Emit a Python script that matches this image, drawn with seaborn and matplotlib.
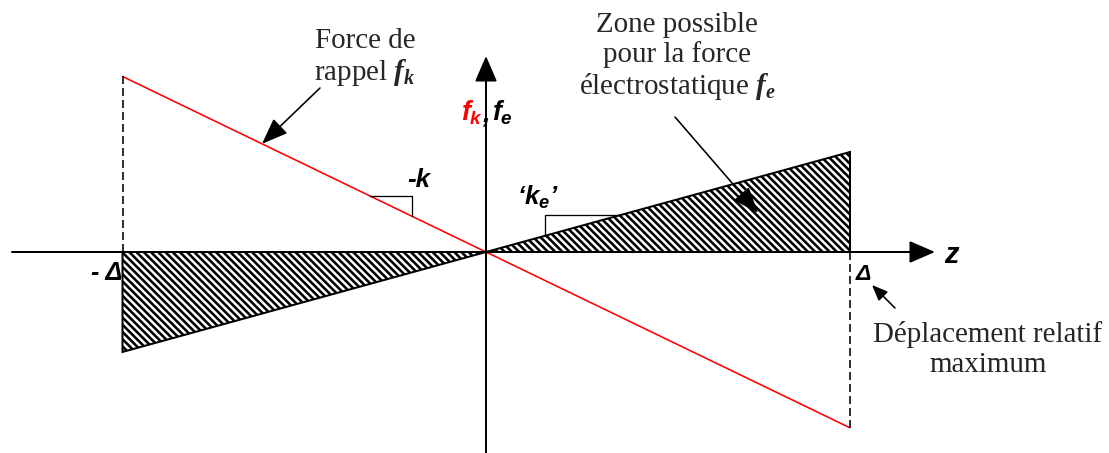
import numpy as np
import pandas as pd
import matplotlib.pyplot as plt
import seaborn as sns

# -----------------------------
# schematic data (pixel-like units, origin at the axes crossing)
# -----------------------------
delta = 363.5          # maximum relative displacement
k_spring = 0.483       # slope of restoring force  f_k = -k z
k_elec = 0.275         # slope bounding the electrostatic zone  'k_e'
z_limits = [-delta, delta]
slope_k_z = [-116, -74]      # little slope triangle on f_k
slope_ke_z = [59, 134]       # little slope triangle on f_e

DPI = 130
PX = 72 / DPI   # one pixel in points

sns.set_theme(style="white")
plt.rcParams["font.family"] = ["Liberation Serif", "DejaVu Serif"]
plt.rcParams["mathtext.fontset"] = "custom"
plt.rcParams["mathtext.it"] = "Liberation Sans:italic:bold"
plt.rcParams["mathtext.bf"] = "Liberation Serif:italic:bold"
plt.rcParams["mathtext.rm"] = "Liberation Serif"
plt.rcParams["hatch.linewidth"] = 2.6 * PX

fig = plt.figure(figsize=(1109 / DPI, 453 / DPI), dpi=DPI)
ax = fig.add_axes([0, 0, 1, 1])
ax.set_xlim(-486, 623)
ax.set_ylim(-201, 252)
ax.axis("off")

# hatched zone for the electrostatic force
z = np.array(z_limits)
hatch = "\\" * 6
ax.fill([0, z[1], z[1]], [0, 0, k_elec * z[1]], facecolor="white",
        edgecolor="black", hatch=hatch, lw=2 * PX, zorder=2)
ax.fill([z[0], 0, z[0]], [0, 0, k_elec * z[0]], facecolor="white",
        edgecolor="black", hatch=hatch, lw=2 * PX, zorder=2)

# restoring force line
df = pd.DataFrame({"z": z, "f": -k_spring * z})
sns.lineplot(data=df, x="z", y="f", color="red", lw=1.6 * PX, ax=ax, zorder=3)

# dashed verticals at +/- delta
for zz in z_limits:
    ax.plot([zz, zz], [0, -k_spring * zz], color="black", lw=1.6 * PX,
            dashes=(5, 2.5), zorder=3)

# axes with arrows
axis_arrow = dict(arrowstyle="-|>,head_length=1.32,head_width=0.57",
                  color="black", lw=2 * PX, shrinkA=0, shrinkB=0,
                  mutation_scale=10 * 120 / DPI)
ax.annotate("", xy=(449, 0), xytext=(-474, 0), arrowprops=axis_arrow, zorder=4)
ax.annotate("", xy=(0, 196), xytext=(0, -201), arrowprops=axis_arrow, zorder=4)

# slope triangles
za, zb = slope_k_z
ax.plot([za, zb, zb], [-k_spring * za, -k_spring * za, -k_spring * zb],
        color="black", lw=1.3 * PX, zorder=3)
za, zb = slope_ke_z
ax.plot([za, za, zb], [k_elec * za, k_elec * zb, k_elec * zb],
        color="black", lw=1.3 * PX, zorder=3)

# labels (bold italic sans)
sans = dict(family="Liberation Sans", weight="bold", style="italic",
            color="black", ha="center", va="center")
ax.text(-67, 72, "-k", fontsize=26 * PX, **sans)
ax.text(52, 55, "\u2018$k_e$\u2019", fontsize=26 * PX, **sans)
ax.text(-379, -21, "- \u0394", fontsize=25 * PX, **sans)
ax.text(377, -22, "\u0394", fontsize=23 * PX, **sans)
ax.text(465, -3, "z", fontsize=29 * PX, **sans)
lab = dict(sans, va="center")
lab.pop("ha")
lab.pop("color")
ax.text(-3, 139, "$f_k$", fontsize=27 * PX, color="red", ha="right", **lab)
ax.text(-4, 137, ",", fontsize=27 * PX, color="black", ha="left", **lab)
ax.text(6, 139, "$f_e$", fontsize=27 * PX, color="black", ha="left", **lab)

# serif annotations
serif = dict(fontsize=29 * PX, ha="center", va="center", linespacing=1.12)
ax.text(-121, 194, "Force de\nrappel $\\mathbf{f_k}$", **serif)
ax.text(191, 195, "Zone possible\npour la force\n\u00e9lectrostatique $\\mathbf{f_e}$", **serif)
ax.text(502, -98, "D\u00e9placement relatif\nmaximum", fontsize=29 * PX,
        ha="center", va="center", linespacing=1.2)

ptr = dict(arrowstyle="-|>,head_length=1.35,head_width=0.52", color="black",
           lw=1.6 * PX, shrinkA=0, shrinkB=0, mutation_scale=10 * 120 / DPI)
ax.annotate("", xy=(-224, k_spring * 224), xytext=(-166, 164), arrowprops=ptr, zorder=5)
ax.annotate("", xy=(272, 39), xytext=(189, 135), arrowprops=ptr, zorder=5)
small = dict(ptr, arrowstyle="-|>,head_length=0.8,head_width=0.33")
ax.annotate("", xy=(386, -33), xytext=(409, -56), arrowprops=small, zorder=5)

fig.savefig("out.png", dpi=DPI)
